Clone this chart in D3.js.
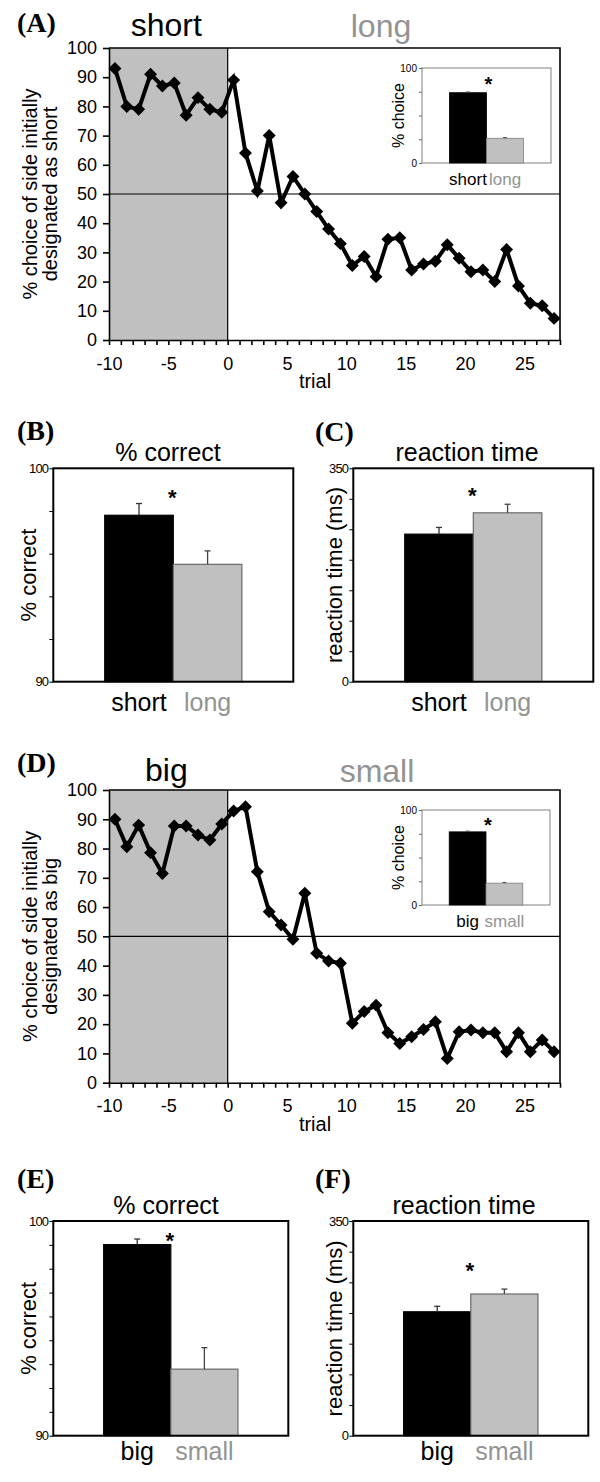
<!DOCTYPE html>
<html><head><meta charset="utf-8">
<script src="https://cdn.jsdelivr.net/npm/d3@7"></script>
<style>body{margin:0;background:#fff} svg{display:block}</style>
</head><body><svg id="c" width="600" height="1482"></svg>
<script>
// ---------------- DATA ----------------
const trials = [-10,-9,-8,-7,-6,-5,-4,-3,-2,-1,0,1,2,3,4,5,6,7,8,9,10,11,12,13,14,15,16,17,18,19,20,21,22,23,24,25,26,27];
const choiceShort = [93,80,79,91,87,88,77,83,79,78, 89,64,51,70,47,56,50,44,38,33, 25.5,28.6,21.7,34.5,35,24,26,27,32.6,28, 23.4,24,20,31,18.5,12.6,11.7,7.4];
const choiceBig = [90,80.6,88,78.6,71.5,87.7,87.7,84.6,82.9,88.4, 92.8,94.3,72.1,58.4,53.9,49,64.7,44.2,41.6,40.8, 20.3,24.3,26.5,17.1,13.4,15.7,18.2,20.8,8.3,17.4, 18,17.1,17.1,10.6,17.1,10.6,14.6,10.6];
const xDomain = [-10, 28];
const xTickValues = [-10,-9,-8,-7,-6,-5,-4,-3,-2,-1,0,1,2,3,4,5,6,7,8,9,10,11,12,13,14,15,16,17,18,19,20,21,22,23,24,25,26,27,28];
const xTickLabels = [-10,-5,0,5,10,15,20,25];
const yTicksChoice = [0,10,20,30,40,50,60,70,80,90,100];

const catsSL = ["short","long"];
const catsBS = ["big","small"];
const insetSLValues = [74, 26];
const insetSLErr = [0.8, 0.8];
const insetBSValues = [77, 23];
const insetBSErr = [0.8, 0.8];
const insetTicks = [0,25,50,75,100];

const correctSL = [97.8, 95.5];
const correctSLErr = [0.55, 0.63];
const rtSL = [242, 277];
const rtSLErr = [11, 14];
const correctBS = [98.9, 93.1];
const correctBSErr = [0.26, 1.0];
const rtBS = [202, 231];
const rtBSErr = [9, 8];
// significance marker levels (data units)
const starB = 98.83, starC = 313, starE = 99.3, starF = 276.6, starInsetA = 87, starInsetD = 88;

// ---------------- DRAWING ----------------
const SANS = '"Liberation Sans", Arial, Helvetica, sans-serif';
const SERIF = '"Liberation Serif", "Times New Roman", serif';
const GRAY_FILL = "#c0c0c0";
const GRAY_TEXT = "#939393";
const svg = d3.select("#c");

function txt(g, s, x, y, size, opts = {}) {
  const t = g.append("text").attr("x", x).attr("y", y).text(s)
    .attr("font-family", opts.family || SANS)
    .attr("font-size", size)
    .attr("font-weight", opts.weight || "normal")
    .attr("fill", opts.fill || "#000")
    .attr("text-anchor", opts.anchor || "middle");
  if (opts.rotate) t.attr("transform", `rotate(-90,${x},${y})`);
  return t;
}

function styleAxis(ax, size, width) {
  ax.select(".domain").attr("stroke", "#000").attr("stroke-width", width);
  ax.selectAll(".tick line").attr("stroke", "#000").attr("stroke-width", width);
  ax.selectAll(".tick text").attr("font-family", SANS).attr("font-size", size).attr("fill", "#000");
}

function inset(g, cfg) {
  const x = d3.scaleBand().domain(cfg.cats).range([cfg.x0, cfg.x1]).paddingInner(0).paddingOuter(0.74);
  const y = d3.scaleLinear().domain([0, 100]).range([cfg.y1, cfg.y0]);
  g.append("rect").attr("x", cfg.x0).attr("y", cfg.y0).attr("width", cfg.x1 - cfg.x0).attr("height", cfg.y1 - cfg.y0)
    .attr("fill", "#fff").attr("stroke", "#808080").attr("stroke-width", 1);
  g.selectAll("rect.ib").data(cfg.values).join("rect")
    .attr("x", (d, i) => x(cfg.cats[i])).attr("width", x.bandwidth())
    .attr("y", d => y(d)).attr("height", d => y(0) - y(d))
    .attr("fill", (d, i) => i === 0 ? "#000" : GRAY_FILL)
    .attr("stroke", (d, i) => i === 0 ? "#000" : "#808080").attr("stroke-width", 0.8);
  cfg.values.forEach((v, i) => {
    const cx = x(cfg.cats[i]) + x.bandwidth() / 2;
    g.append("line").attr("x1", cx).attr("x2", cx).attr("y1", y(v)).attr("y2", y(v + cfg.errs[i])).attr("stroke", "#555");
    g.append("line").attr("x1", cx - 2).attr("x2", cx + 2).attr("y1", y(v + cfg.errs[i])).attr("y2", y(v + cfg.errs[i])).attr("stroke", "#555");
  });
  const ay = g.append("g").attr("transform", `translate(${cfg.x0},0)`)
    .call(d3.axisLeft(y).tickValues(insetTicks).tickSize(3).tickPadding(2).tickFormat(d => (d === 0 || d === 100) ? d : ""));
  ay.select(".domain").remove();
  ay.selectAll(".tick line").attr("stroke", "#666");
  ay.selectAll(".tick text").attr("font-family", SANS).attr("font-size", 10).attr("fill", "#000");
  txt(g, "% choice", cfg.x0 - 18, (cfg.y0 + cfg.y1) / 2, 16, { rotate: true });
  cfg.cats.forEach((c, i) => {
    txt(g, c, x(c) + x.bandwidth() / 2, cfg.y1 + 22, 17, { fill: i === 0 ? "#000" : GRAY_TEXT });
  });
  txt(g, "*", x(cfg.cats[1]) + 2, y(cfg.star), 20, { weight: "bold" }).attr("dy", "0.55em");
}

function linePanel(cfg) {
  const g = svg.append("g");
  const x = d3.scaleLinear().domain(xDomain).range([cfg.left, cfg.right]);
  const y = d3.scaleLinear().domain([0, 100]).range([cfg.bottom, cfg.top]);
  g.append("rect").attr("x", x(-10)).attr("y", y(100)).attr("width", x(0) - x(-10)).attr("height", y(0) - y(100)).attr("fill", GRAY_FILL);
  g.append("line").attr("x1", x(0)).attr("x2", x(0)).attr("y1", y(0)).attr("y2", y(100)).attr("stroke", "#000").attr("stroke-width", 1.2);
  g.append("line").attr("x1", x(-10)).attr("x2", x(28)).attr("y1", y(50)).attr("y2", y(50)).attr("stroke", "#000").attr("stroke-width", 1.2);
  g.append("path").attr("d", `M${x(-10)},${y(100)}H${x(28)}V${y(0)}`).attr("fill", "none").attr("stroke", "#000").attr("stroke-width", 1.6);

  inset(g, cfg.inset);

  const ax = g.append("g").attr("transform", `translate(0,${y(0)})`)
    .call(d3.axisBottom(x).tickValues(xTickValues).tickSize(5).tickPadding(12).tickSizeOuter(0)
      .tickFormat(d => xTickLabels.includes(d) ? String(d) : ""));
  styleAxis(ax, 18, 1.6);
  const ay = g.append("g").attr("transform", `translate(${x(-10)},0)`)
    .call(d3.axisLeft(y).tickValues(yTicksChoice).tickSize(6).tickPadding(6).tickSizeOuter(0));
  styleAxis(ay, 18, 1.6);

  const line = d3.line().x((d, i) => x(trials[i] + 0.5)).y(d => y(d));
  g.append("path").datum(cfg.values).attr("d", line).attr("fill", "none").attr("stroke", "#000")
    .attr("stroke-width", 4).attr("stroke-linejoin", "miter");
  g.selectAll("path.mk").data(cfg.values).join("path").attr("class", "mk")
    .attr("d", d3.symbol(d3.symbolSquare, 84))
    .attr("transform", (d, i) => `translate(${x(trials[i] + 0.5)},${y(d)}) rotate(45)`)
    .attr("fill", "#000");

  txt(g, cfg.letter, 17, cfg.letterY, 28, { family: SERIF, weight: "bold", anchor: "start" });
  txt(g, cfg.t1, (x(-10) + x(0)) / 2 - 2, cfg.t1Y, 32);
  txt(g, cfg.t2, cfg.t2X, cfg.t2Y, 32, { fill: GRAY_TEXT });
  const mid = (y(0) + y(100)) / 2;
  txt(g, "% choice of side initially", 37, mid, 20, { rotate: true });
  txt(g, cfg.ylab2, 57, mid, 20, { rotate: true });
  txt(g, "trial", 315, y(0) + 48, 20);
}

function barPanel(cfg) {
  const g = svg.append("g");
  const x = d3.scaleBand().domain(cfg.cats).range([cfg.x0, cfg.x1]).paddingInner(0).paddingOuter(0.75);
  const y = d3.scaleLinear().domain(cfg.domain).range([cfg.y1, cfg.y0]);
  const ay = g.append("g").attr("transform", `translate(${cfg.x0},0)`)
    .call(d3.axisLeft(y).tickValues(cfg.ticks).tickSize(4).tickPadding(1).tickSizeOuter(0)
      .tickFormat(d => (d === cfg.domain[0] || d === cfg.domain[1]) ? String(d) : ""));
  ay.select(".domain").remove();
  ay.selectAll(".tick line").attr("stroke", "#000").attr("stroke-width", 1);
  ay.selectAll(".tick text").attr("font-family", SANS).attr("font-size", 13).attr("letter-spacing", "-0.8").attr("fill", "#000");

  g.selectAll("rect.b").data(cfg.values).join("rect")
    .attr("x", (d, i) => x(cfg.cats[i])).attr("width", x.bandwidth())
    .attr("y", d => y(d)).attr("height", d => y(cfg.domain[0]) - y(d))
    .attr("fill", (d, i) => i === 0 ? "#000" : GRAY_FILL)
    .attr("stroke", (d, i) => i === 0 ? "#000" : "#6a6a6a").attr("stroke-width", 1.2);
  cfg.values.forEach((v, i) => {
    const cx = x(cfg.cats[i]) + x.bandwidth() / 2;
    const col = i === 0 ? "#333" : "#444";
    g.append("line").attr("x1", cx).attr("x2", cx).attr("y1", y(v)).attr("y2", y(v + cfg.errs[i])).attr("stroke", col).attr("stroke-width", 1.3);
    g.append("line").attr("x1", cx - 3).attr("x2", cx + 3).attr("y1", y(v + cfg.errs[i])).attr("y2", y(v + cfg.errs[i])).attr("stroke", col).attr("stroke-width", 1.3);
  });
  g.append("rect").attr("x", cfg.x0).attr("y", cfg.y0).attr("width", cfg.x1 - cfg.x0).attr("height", cfg.y1 - cfg.y0)
    .attr("fill", "none").attr("stroke", "#000").attr("stroke-width", 2);

  txt(g, "*", x(cfg.cats[1]) - 1, y(cfg.star), 22, { weight: "bold" }).attr("dy", "0.55em");
  txt(g, cfg.letter, cfg.letterX, cfg.letterY, 28, { family: SERIF, weight: "bold", anchor: "start" });
  txt(g, cfg.title, cfg.titleX, cfg.y0 - 7, 25);
  txt(g, cfg.ylab, cfg.ylabX, (cfg.y0 + cfg.y1) / 2, 22, { rotate: true });
  cfg.cats.forEach((c, i) => {
    txt(g, c, x(c) + x.bandwidth() / 2, cfg.catY, 25, { fill: i === 0 ? "#000" : GRAY_TEXT });
  });
}

const correctTicks5 = [90,92,94,96,98,100];
const rtTicks = [0,50,100,150,200,250,300,350];
const correctTicks9 = d3.range(10).map(i => 90 + i * 10 / 9);

linePanel({
  left: 109, right: 560, top: 48, bottom: 340, values: choiceShort,
  letter: "(A)", letterY: 32, t1: "short", t1Y: 36, t2: "long", t2X: 381, t2Y: 37,
  ylab2: "designated as short",
  inset: { x0: 422, x1: 551, y0: 68, y1: 163, cats: catsSL, values: insetSLValues, errs: insetSLErr, star: starInsetA }
});
barPanel({
  x0: 53.3, x1: 293.3, y0: 468.3, y1: 681.7, domain: [90, 100], ticks: correctTicks5,
  cats: catsSL, values: correctSL, errs: correctSLErr, star: starB,
  letter: "(B)", letterX: 17, letterY: 440, title: "% correct", titleX: 168, ylab: "% correct", ylabX: 36, catY: 711
});
barPanel({
  x0: 353.3, x1: 593.3, y0: 468.3, y1: 681.7, domain: [0, 350], ticks: rtTicks,
  cats: catsSL, values: rtSL, errs: rtSLErr, star: starC,
  letter: "(C)", letterX: 315, letterY: 441, title: "reaction time", titleX: 467, ylab: "reaction time (ms)", ylabX: 342, catY: 711
});
linePanel({
  left: 109, right: 560, top: 790, bottom: 1082.7, values: choiceBig,
  letter: "(D)", letterY: 772, t1: "big", t1Y: 781, t2: "small", t2X: 377, t2Y: 782,
  ylab2: "designated as big",
  inset: { x0: 422, x1: 550, y0: 810, y1: 905, cats: catsBS, values: insetBSValues, errs: insetBSErr, star: starInsetD }
});
barPanel({
  x0: 53.3, x1: 288.3, y0: 1221, y1: 1435.7, domain: [90, 100], ticks: correctTicks9,
  cats: catsBS, values: correctBS, errs: correctBSErr, star: starE,
  letter: "(E)", letterX: 17, letterY: 1188, title: "% correct", titleX: 166, ylab: "% correct", ylabX: 36, catY: 1460
});
barPanel({
  x0: 353.3, x1: 588.3, y0: 1221, y1: 1435.7, domain: [0, 350], ticks: rtTicks,
  cats: catsBS, values: rtBS, errs: rtBSErr, star: starF,
  letter: "(F)", letterX: 315, letterY: 1188, title: "reaction time", titleX: 464, ylab: "reaction time (ms)", ylabX: 342, catY: 1460
});
</script>
</body></html>
